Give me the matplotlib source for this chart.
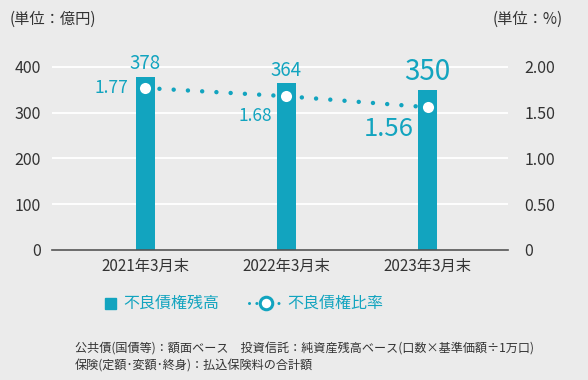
import matplotlib
matplotlib.use("Agg")
import matplotlib.pyplot as plt
from matplotlib.lines import Line2D

plt.rcParams['font.family'] = ['Noto Sans CJK JP', 'DejaVu Sans']

categories = ['2021年3月末', '2022年3月末', '2023年3月末']
balance = [378, 364, 350]          # 不良債権残高 (億円)
ratio = [1.77, 1.68, 1.56]         # 不良債権比率 (%)
left_ticks = [0, 100, 200, 300, 400]
right_ticks = [0, 0.5, 1.0, 1.5, 2.0]
right_labels = ['0', '0.50', '1.00', '1.50', '2.00']

teal = '#12a4bf'
bg = '#ebebeb'
dark = '#333333'

fig = plt.figure(figsize=(5.88, 3.80), dpi=100, facecolor=bg)
ax = fig.add_axes([52/588, 1 - 250/380, (508-52)/588, 200/380])
ax.set_facecolor(bg)
x = list(range(len(categories)))

ax.bar(x, balance, width=0.135, color=teal, zorder=3)
ax.set_xlim(-0.66, 2.57)
ax.set_ylim(0, 437)
ax.set_yticks(left_ticks)
ax.set_yticklabels([str(t) for t in left_ticks], fontsize=11.5, color=dark)
ax.set_xticks(x)
ax.set_xticklabels(categories, fontsize=11, color=dark)
ax.tick_params(length=0, pad=8)
ax.tick_params(axis='x', pad=6)
for t in left_ticks[1:]:
    ax.axhline(t, color='white', lw=1.3, zorder=1)
for s in ['top', 'right', 'left']:
    ax.spines[s].set_visible(False)
ax.spines['bottom'].set_color('#555555')
ax.spines['bottom'].set_linewidth(1.2)
ax.spines['bottom'].set_zorder(4)

ax2 = ax.twinx()
ax2.set_ylim(0, 2.185)
ax2.set_yticks(right_ticks)
ax2.set_yticklabels(right_labels, fontsize=11.5, color=dark)
ax2.tick_params(length=0, pad=12)
for s in ['top', 'right', 'left', 'bottom']:
    ax2.spines[s].set_visible(False)
ax2.plot(x, ratio, color=teal, lw=3.2, linestyle=(0, (0.01, 3.2)),
         dash_capstyle='round', zorder=5)
ax2.plot(x, ratio, 'o', ms=9.5, mfc='white', mec=teal, mew=1.5, zorder=6)

# value labels
sizes_bar = [13.5, 13.5, 20]
for i, v in enumerate(balance):
    ax.annotate(str(v), (x[i], v), xytext=(0, 2), textcoords='offset points',
                ha='center', va='bottom', fontsize=sizes_bar[i], color=teal)
offsets = [(-12, 0), (-10, -14), (-10, -16)]
sizes_ratio = [12.5, 12.5, 18.5]
for i, v in enumerate(ratio):
    ax2.annotate(f'{v:.2f}', (x[i], v), xytext=offsets[i], textcoords='offset points',
                 ha='right', va='center', fontsize=sizes_ratio[i], color=teal)

fig.text(10/588, 1 - 19/380, '(単位：億円)', fontsize=11, color=dark, va='center')
fig.text(563/588, 1 - 19/380, '(単位：%)', fontsize=11, color=dark, va='center', ha='right')

# legend
fig.patches.append(plt.Rectangle((105/588, 1 - 309/380), 11/588, 11/380,
                                 transform=fig.transFigure, color=teal))
fig.text(123/588, 1 - 303/380, '不良債権残高', fontsize=11.5, color=teal, va='center')
fig.add_artist(Line2D([249/588, 283/588], [1 - 303/380, 1 - 303/380],
                      transform=fig.transFigure, color=teal, lw=2.2,
                      linestyle=(0, (0.01, 2.4)), dash_capstyle='round'))
fig.add_artist(Line2D([266/588], [1 - 303/380], transform=fig.transFigure,
                      marker='o', ms=9, mfc='white', mec=teal, mew=2.2))
fig.text(287/588, 1 - 303/380, '不良債権比率', fontsize=11.5, color=teal, va='center')

fig.text(75/588, 1 - 349/380,
         '公共債(国債等)：額面ベース　投資信託：純資産残高ベース(口数×基準価額÷1万口)',
         fontsize=8.7, color=dark, va='center')
fig.text(75/588, 1 - 366/380, '保険(定額･変額･終身)：払込保険料の合計額',
         fontsize=8.7, color=dark, va='center')

fig.savefig('out.png', dpi=100, facecolor=bg)
